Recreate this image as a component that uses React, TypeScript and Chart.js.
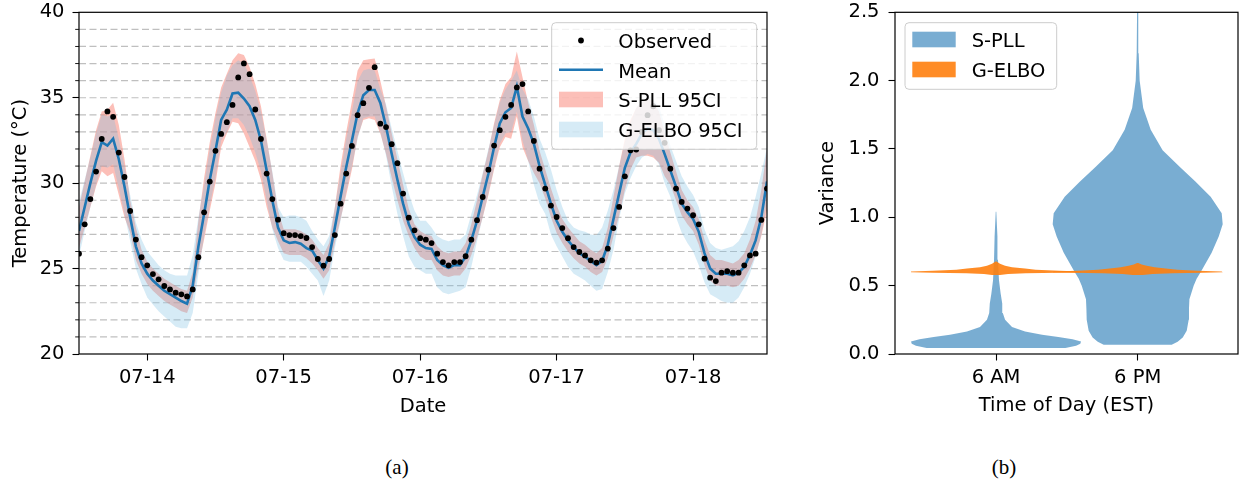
import React, { useEffect, useRef } from 'react';
import { Chart, registerables } from 'chart.js';

Chart.register(...registerables);

const FONT_FAMILY = "'DejaVu Sans', 'Noto Sans', sans-serif";
const FONT_SIZE = 19.5;

// ---------------- (a) hourly temperature series, first sample at 07-13 12:00 ----------------
const firstSampleHour = 12; // hours after 07-13 00:00

const observedTemp = [
  25.87, 27.59, 29.07, 30.68, 32.59, 34.2, 33.88, 31.79, 30.36, 28.37, 26.7, 25.67,
  25.19, 24.68, 24.37, 23.98, 23.78, 23.59, 23.49, 23.37, 23.78, 25.67, 28.29, 30.09,
  31.89, 32.88, 33.57, 34.58, 36.19, 37.01, 36.38, 34.31, 32.59, 30.56, 29.07, 27.86,
  27.07, 26.96, 26.96, 26.9, 26.79, 26.26, 25.56, 25.17, 25.56, 26.96, 28.8, 30.56,
  32.18, 33.98, 34.68, 35.58, 36.79, 33.48, 33.28, 32.28, 31.17, 29.39, 27.98, 27.24,
  26.78, 26.69, 26.49, 25.87, 25.38, 25.19, 25.38, 25.38, 25.72, 26.69, 27.83, 29.19,
  30.79, 32.2, 33.1, 33.88, 34.58, 35.6, 35.8, 34.2, 32.47, 30.85, 29.68, 28.69,
  28.02, 27.37, 26.78, 26.26, 25.97, 25.77, 25.48, 25.35, 25.48, 26.17, 27.37, 28.61,
  30.4, 31.92, 31.97, 33.0, 33.98, 34.5, 33.1, 32.36, 30.85, 29.68, 28.9, 28.51,
  28.12, 27.59, 25.58, 24.47, 24.27, 24.76, 24.85, 24.76, 24.76, 25.19, 25.77, 25.87,
  27.85, 29.68,
];

const meanTemp = [
  27.2, 28.6, 30.0, 31.3, 32.4, 32.2, 32.6, 31.4, 29.8, 28.0, 26.3, 25.3,
  24.7, 24.3, 24.0, 23.7, 23.5, 23.3, 23.1, 22.95, 24.0, 26.3, 28.2, 30.2,
  31.9, 33.7, 34.3, 35.25, 35.3, 34.95, 34.5, 33.7, 32.5, 30.75, 29.0, 27.4,
  26.65, 26.5, 26.55, 26.45, 26.2, 26.05, 25.5, 25.0, 25.7, 27.4, 29.2, 30.95,
  32.5, 34.1, 35.15, 35.45, 35.45, 34.7, 33.3, 31.7, 30.2, 28.8, 27.6, 26.85,
  26.4, 26.2, 26.15, 25.5, 25.2, 25.05, 25.2, 25.2, 25.7, 26.65, 27.8, 29.2,
  30.55, 32.1, 33.5, 34.15, 34.4, 35.65, 33.9, 33.2, 32.3, 31.0, 29.9, 28.8,
  27.8, 27.15, 26.65, 26.25, 25.9, 25.7, 25.45, 25.2, 25.45, 26.4, 27.9, 29.4,
  30.9, 31.8, 32.3, 32.9, 33.2, 33.1, 32.6, 31.7, 30.75, 29.8, 28.8, 28.3,
  27.9, 27.15, 25.9, 25.0, 24.7, 24.7, 24.7, 24.6, 24.75, 25.1, 25.8, 26.65,
  28.0, 30.1,
];

const spllLower = [
  26.2, 27.4, 28.6, 29.8, 30.7, 30.4, 30.6, 29.3, 28.0, 27.1, 25.5, 24.7,
  24.1, 23.7, 23.4, 23.1, 22.9, 22.7, 22.5, 22.4, 23.3, 25.1, 26.7, 28.4,
  30.0, 32.1, 32.9, 33.6, 33.5, 32.9, 32.1, 31.3, 30.2, 28.6, 27.4, 26.6,
  25.9, 25.8, 25.8, 25.8, 25.6, 25.3, 24.9, 24.4, 24.9, 26.5, 27.9, 29.3,
  30.8, 32.7, 33.7, 33.8, 33.7, 32.9, 31.7, 30.3, 29.0, 27.8, 26.9, 26.2,
  25.7, 25.5, 25.5, 24.9, 24.6, 24.5, 24.6, 24.6, 25.0, 25.8, 26.8, 28.0,
  29.3, 30.8, 32.1, 32.7, 32.6, 33.9, 32.1, 31.3, 30.6, 30.0, 29.1, 28.0,
  27.1, 26.5, 26.0, 25.6, 25.3, 25.1, 24.8, 24.6, 24.8, 25.6, 26.9, 28.1,
  29.6, 30.8, 31.5, 31.6, 31.6, 31.5, 31.2, 30.4, 29.9, 29.0, 28.1, 27.6,
  27.2, 26.4, 25.2, 24.3, 24.0, 24.0, 24.0, 23.9, 24.0, 24.4, 25.0, 25.8,
  26.9, 28.4,
];

const spllUpper = [
  28.6, 30.1, 31.6, 33.1, 34.2, 34.3, 34.7, 33.4, 31.4, 29.0, 27.4, 26.1,
  25.4, 25.0, 24.7, 24.4, 24.2, 24.0, 23.8, 23.7, 24.8, 27.8, 30.3, 32.4,
  34.1, 35.6, 36.4, 37.2, 37.6, 37.5, 36.8, 35.8, 34.5, 32.6, 30.6, 28.4,
  27.3, 27.3, 27.3, 27.2, 27.0, 26.7, 26.2, 25.8, 26.5, 28.6, 31.0, 33.0,
  34.8, 36.6, 37.2, 37.25, 37.3, 36.0, 34.5, 32.9, 31.4, 29.9, 28.5, 27.6,
  27.2, 27.0, 26.9, 26.3, 26.0, 25.9, 26.0, 26.0, 26.5, 27.6, 29.0, 30.5,
  31.9, 33.5, 34.85, 35.8, 36.2, 37.7, 36.2, 34.7, 33.4, 31.9, 30.8, 29.7,
  28.7, 27.9, 27.4, 27.0, 26.6, 26.4, 26.1, 25.9, 26.2, 27.4, 29.2, 31.0,
  32.6, 33.7, 34.4, 34.8, 35.0, 34.8, 34.2, 33.0, 31.8, 30.7, 29.6, 29.0,
  28.6, 27.9, 26.7, 25.8, 25.5, 25.5, 25.4, 25.3, 25.5, 25.9, 26.7, 27.8,
  29.6, 32.0,
];

const gelboLower = [
  25.7, 27.2, 28.6, 29.9, 31.0, 30.9, 31.1, 29.7, 28.2, 26.6, 25.0, 24.1,
  23.3, 22.9, 22.5, 22.2, 21.9, 21.6, 21.5, 21.5, 22.4, 24.7, 26.9, 28.7,
  30.3, 32.5, 33.0, 33.8, 33.8, 33.4, 32.7, 31.8, 30.7, 29.0, 27.3, 26.2,
  25.5, 25.4, 25.4, 25.4, 25.1, 24.7, 24.3, 23.4, 24.3, 26.2, 27.8, 29.5,
  31.0, 32.6, 33.8, 33.9, 33.9, 33.0, 31.6, 29.8, 28.2, 26.9, 25.7, 25.1,
  24.9, 24.7, 24.7, 23.9, 23.6, 23.5, 23.6, 23.7, 23.9, 25.1, 26.6, 28.0,
  29.4, 30.9, 32.3, 32.9, 33.0, 34.2, 32.5, 31.3, 29.9, 28.8, 28.2, 27.0,
  26.3, 25.7, 25.1, 24.7, 24.5, 24.3, 24.0, 23.7, 23.8, 24.8, 26.1, 27.9,
  29.4, 30.3, 31.0, 31.5, 31.7, 31.6, 31.1, 30.0, 29.2, 28.0, 27.1, 26.5,
  26.0, 25.2, 24.2, 23.5, 23.3, 23.1, 23.0, 23.0, 23.3, 23.9, 24.7, 25.7,
  27.0, 28.9,
];

const gelboUpper = [
  28.9, 30.2, 31.5, 32.9, 34.0, 33.9, 34.0, 32.6, 31.0, 29.3, 27.7, 26.7,
  26.0, 25.6, 25.2, 24.9, 24.7, 24.6, 24.6, 24.6, 25.8, 28.0, 29.9, 32.0,
  33.8, 35.3, 36.3, 36.9, 37.2, 37.0, 36.3, 35.4, 34.2, 32.5, 30.7, 28.6,
  28.0, 28.1, 28.1, 28.0, 27.8, 27.2, 26.7, 26.3, 26.9, 28.6, 30.6, 32.6,
  34.2, 36.0, 36.6, 36.7, 36.6, 35.5, 34.6, 33.2, 31.9, 30.6, 29.4, 28.4,
  27.8, 27.8, 27.4, 26.9, 26.7, 26.6, 26.7, 26.7, 27.0, 28.2, 29.3, 30.6,
  32.0, 33.4, 34.7, 35.5, 36.0, 36.6, 35.5, 34.9, 33.9, 32.6, 31.8, 30.8,
  29.6, 28.6, 27.8, 27.4, 27.25, 27.15, 27.0, 26.95, 27.4, 28.4, 29.6, 31.0,
  32.4, 33.5, 34.4, 34.8, 35.0, 34.9, 34.5, 33.4, 32.2, 31.3, 30.4, 29.8,
  29.3, 28.6, 27.3, 26.5, 26.2, 26.1, 26.2, 26.3, 26.6, 27.2, 28.0, 29.2,
  30.6, 32.1,
];

const dayTickHours = [24, 48, 72, 96, 120];
const dayTickLabels = ['07-14', '07-15', '07-16', '07-17', '07-18'];
const hourAxisRange = [12, 133];
const tempTicks = [20, 25, 30, 35, 40];

// ---------------- (b) violin plot of variances ----------------
const timeOfDayLabels = ['6 AM', '6 PM'];
const timeOfDayPositions = [1, 2];
const positionAxisRange = [0.287, 2.708];
const varianceTicks = [0, 0.5, 1, 1.5, 2, 2.5];

const spllAmLevels = [0.044, 0.06, 0.075, 0.092, 0.108, 0.124, 0.141, 0.165, 0.197, 0.25, 0.3, 0.37, 0.44, 0.54, 0.69, 0.86, 1.04];
const spllAmHalfWidth = [0.49, 0.565, 0.595, 0.6, 0.54, 0.44, 0.325, 0.205, 0.113, 0.064, 0.048, 0.044, 0.033, 0.021, 0.014, 0.01, 0.002];

const spllPmLevels = [0.068, 0.09, 0.12, 0.17, 0.25, 0.33, 0.4, 0.45, 0.5, 0.55, 0.6, 0.74, 0.86, 0.95, 1.03, 1.15, 1.26, 1.37, 1.49, 1.64, 1.8, 2.0, 2.2, 2.55];
const spllPmHalfWidth = [0.24, 0.282, 0.318, 0.346, 0.36, 0.362, 0.365, 0.38, 0.395, 0.416, 0.445, 0.522, 0.572, 0.6, 0.593, 0.515, 0.409, 0.296, 0.176, 0.092, 0.039, 0.014, 0.007, 0.004];

const gelboAmLevels = [0.578, 0.585, 0.59, 0.594, 0.598, 0.604, 0.61, 0.617, 0.625, 0.635, 0.646, 0.66, 0.677];
const gelboAmHalfWidth = [0.028, 0.085, 0.21, 0.445, 0.6, 0.6, 0.445, 0.28, 0.205, 0.113, 0.064, 0.028, 0.004];

const gelboPmLevels = [0.578, 0.585, 0.59, 0.594, 0.598, 0.604, 0.61, 0.617, 0.625, 0.635, 0.645, 0.655, 0.665];
const gelboPmHalfWidth = [0.035, 0.106, 0.247, 0.459, 0.6, 0.593, 0.423, 0.28, 0.198, 0.12, 0.064, 0.028, 0.004];

// ---------------- colours ----------------
const C_MEAN = '#1f77b4';
const C_SPLL_BAND = 'rgba(250,128,114,0.5)';
const C_GELBO_BAND = 'rgba(118,188,225,0.3)';
const C_SPLL_VIOLIN = 'rgba(31,119,180,0.6)';
const C_GELBO_VIOLIN = 'rgba(255,127,14,0.9)';

const toSeries = (arr: number[]) => arr.map((v, i) => ({ x: firstSampleHour + i, y: v }));

function violinOutline(pos: number, levels: number[], half: number[]) {
  const right = levels.map((v, i) => ({ x: pos + half[i], y: v }));
  const left = levels.map((v, i) => ({ x: pos - half[i], y: v })).reverse();
  return [...right, ...left];
}

function roundRectPath(ctx: any, x: number, y: number, w: number, h: number, r: number) {
  ctx.beginPath();
  ctx.moveTo(x + r, y);
  ctx.lineTo(x + w - r, y);
  ctx.arcTo(x + w, y, x + w, y + r, r);
  ctx.lineTo(x + w, y + h - r);
  ctx.arcTo(x + w, y + h, x + w - r, y + h, r);
  ctx.lineTo(x + r, y + h);
  ctx.arcTo(x, y + h, x, y + h - r, r);
  ctx.lineTo(x, y + r);
  ctx.arcTo(x, y, x + r, y, r);
  ctx.closePath();
}

function drawLegend(ctx: any, box: any, entries: any[]) {
  ctx.save();
  roundRectPath(ctx, box.x, box.y, box.w, box.h, 4);
  ctx.fillStyle = 'rgba(255,255,255,0.8)';
  ctx.fill();
  ctx.lineWidth = 1;
  ctx.strokeStyle = '#cccccc';
  ctx.stroke();
  for (const e of entries) {
    const hx0 = box.handleX0;
    const hx1 = box.handleX1;
    if (e.kind === 'dot') {
      ctx.beginPath();
      ctx.arc((hx0 + hx1) / 2, e.cy, 2.9, 0, Math.PI * 2);
      ctx.fillStyle = '#000';
      ctx.fill();
    } else if (e.kind === 'line') {
      ctx.beginPath();
      ctx.moveTo(hx0, e.cy);
      ctx.lineTo(hx1, e.cy);
      ctx.lineWidth = 2.6;
      ctx.strokeStyle = e.color;
      ctx.stroke();
    } else {
      ctx.fillStyle = e.color;
      ctx.fillRect(hx0, e.cy - 7.8, hx1 - hx0, 15.6);
    }
    ctx.fillStyle = '#000';
    ctx.font = `${FONT_SIZE}px ${FONT_FAMILY}`;
    ctx.textAlign = 'left';
    ctx.textBaseline = 'alphabetic';
    ctx.fillText(e.label, box.textX, e.baseline);
  }
  ctx.restore();
}

const framePlugin = {
  id: 'axesFrame',
  afterDatasetsDraw(chart: any) {
    const { ctx, chartArea: a } = chart;
    ctx.save();
    ctx.strokeStyle = '#000';
    ctx.lineWidth = 1.2;
    ctx.strokeRect(a.left, a.top, a.right - a.left, a.bottom - a.top);
    ctx.restore();
  },
};

const tempGridPlugin = {
  id: 'tempGrid',
  beforeDatasetsDraw(chart: any) {
    const { ctx, chartArea: a, scales } = chart;
    const y = scales.y;
    ctx.save();
    ctx.strokeStyle = 'rgba(0,0,0,0.25)';
    ctx.lineWidth = 1.2;
    ctx.setLineDash([7, 3.5]);
    for (let v = y.min + 1; v < y.max; v += 1) {
      const py = y.getPixelForValue(v);
      ctx.beginPath();
      ctx.moveTo(a.left, py);
      ctx.lineTo(a.right, py);
      ctx.stroke();
    }
    ctx.restore();
  },
  afterDatasetsDraw(chart: any) {
    const { ctx, chartArea: a, scales } = chart;
    const y = scales.y;
    ctx.save();
    ctx.strokeStyle = '#000';
    ctx.lineWidth = 0.9;
    for (let v = y.min + 1; v < y.max; v += 1) {
      if (tempTicks.indexOf(v) >= 0) continue;
      const py = y.getPixelForValue(v);
      ctx.beginPath();
      ctx.moveTo(a.left - 3.8, py);
      ctx.lineTo(a.left, py);
      ctx.stroke();
    }
    ctx.restore();
  },
};

const leftLegendPlugin = {
  id: 'leftLegend',
  afterDraw(chart: any) {
    drawLegend(
      chart.ctx,
      { x: 551.7, y: 22.7, w: 205, h: 126.6, handleX0: 559, handleX1: 603, textX: 618.3 },
      [
        { kind: 'dot', label: 'Observed', cy: 40.5, baseline: 48.3 },
        { kind: 'line', label: 'Mean', color: C_MEAN, cy: 69.7, baseline: 77.5 },
        { kind: 'patch', label: 'S-PLL 95CI', color: C_SPLL_BAND, cy: 99.5, baseline: 107.3 },
        { kind: 'patch', label: 'G-ELBO 95CI', color: C_GELBO_BAND, cy: 129.5, baseline: 137.3 },
      ]
    );
  },
};

const rightLegendPlugin = {
  id: 'rightLegend',
  afterDraw(chart: any) {
    drawLegend(
      chart.ctx,
      { x: 120, y: 22.7, w: 151.7, h: 66.6, handleX0: 127.3, handleX1: 170.7, textX: 186.7 },
      [
        { kind: 'patch', label: 'S-PLL', color: C_SPLL_VIOLIN, cy: 39.5, baseline: 46.9 },
        { kind: 'patch', label: 'G-ELBO', color: C_GELBO_VIOLIN, cy: 69.5, baseline: 77.0 },
      ]
    );
  },
};

const font = { family: FONT_FAMILY, size: FONT_SIZE };

const fitY = (width: number) => (s: any) => {
  s.width = width;
  s.paddingTop = 0;
  s.paddingBottom = 0;
};
const fitX = (height: number) => (s: any) => {
  s.height = height;
  s.paddingLeft = 0;
  s.paddingRight = 0;
};

export default function App() {
  const leftRef = useRef<HTMLCanvasElement | null>(null);
  const rightRef = useRef<HTMLCanvasElement | null>(null);

  useEffect(() => {
    if (!leftRef.current || !rightRef.current) return;

    const bandDs = (label: string, data: number[], fill: any, color: string) => ({
      label,
      data: toSeries(data),
      borderWidth: 0,
      borderColor: 'transparent',
      backgroundColor: color,
      pointRadius: 0,
      pointHoverRadius: 0,
      tension: 0,
      fill,
    });

    const left = new Chart(leftRef.current, {
      type: 'line',
      data: {
        datasets: [
          {
            label: 'Observed',
            data: toSeries(observedTemp),
            showLine: false,
            pointRadius: 2.9,
            pointHoverRadius: 0,
            pointBackgroundColor: '#000',
            pointBorderWidth: 0,
            borderColor: 'transparent',
            clip: 0,
          } as any,
          {
            label: 'Mean',
            data: toSeries(meanTemp),
            borderColor: C_MEAN,
            borderWidth: 2.6,
            pointRadius: 0,
            pointHoverRadius: 0,
            tension: 0,
            fill: false,
            clip: 0,
          } as any,
          bandDs('G-ELBO 95CI upper', gelboUpper, '+1', C_GELBO_BAND),
          bandDs('G-ELBO 95CI lower', gelboLower, false, 'transparent'),
          bandDs('S-PLL 95CI upper', spllUpper, '+1', C_SPLL_BAND),
          bandDs('S-PLL 95CI lower', spllLower, false, 'transparent'),
        ],
      },
      options: {
        animation: false,
        responsive: false,
        maintainAspectRatio: false,
        devicePixelRatio: 1,
        events: [],
        layout: { padding: { top: 12.3, right: 18, bottom: 0, left: 0 } },
        plugins: { legend: { display: false }, tooltip: { enabled: false } },
        scales: {
          x: {
            type: 'linear',
            min: hourAxisRange[0],
            max: hourAxisRange[1],
            afterBuildTicks: (s: any) => {
              s.ticks = dayTickHours.map((v) => ({ value: v }));
            },
            afterFit: fitX(76),
            ticks: {
              callback: (v: any) => {
                const i = dayTickHours.indexOf(Number(v));
                return i >= 0 ? dayTickLabels[i] : '';
              },
              font,
              color: '#000',
              padding: 6,
              maxRotation: 0,
              autoSkip: false,
            },
            grid: { drawOnChartArea: false, tickLength: 6.5, tickWidth: 1.1, tickColor: '#000' },
            border: { display: false },
            title: { display: true, text: 'Date', font, color: '#000', padding: { top: 0, bottom: 11.7 } },
          },
          y: {
            type: 'linear',
            min: tempTicks[0],
            max: tempTicks[tempTicks.length - 1],
            afterBuildTicks: (s: any) => {
              s.ticks = tempTicks.map((v) => ({ value: v }));
            },
            afterFit: fitY(79),
            ticks: { callback: (v: any) => String(v), font, color: '#000', padding: 8, autoSkip: false },
            grid: { drawOnChartArea: false, tickLength: 6.5, tickWidth: 1.1, tickColor: '#000' },
            border: { display: false },
            title: { display: true, text: 'Temperature (°C)', font, color: '#000', padding: { top: 9, bottom: 0 } },
          },
        },
      } as any,
      plugins: [tempGridPlugin, framePlugin, leftLegendPlugin],
    });

    const violinDs = (label: string, pos: number, levels: number[], half: number[], color: string) => ({
      label,
      data: violinOutline(pos, levels, half),
      fill: 'shape',
      backgroundColor: color,
      borderWidth: 0,
      borderColor: 'transparent',
      pointRadius: 0,
      pointHoverRadius: 0,
      tension: 0,
    });

    const right = new Chart(rightRef.current, {
      type: 'line',
      data: {
        datasets: [
          violinDs('G-ELBO 6 AM', timeOfDayPositions[0], gelboAmLevels, gelboAmHalfWidth, C_GELBO_VIOLIN),
          violinDs('G-ELBO 6 PM', timeOfDayPositions[1], gelboPmLevels, gelboPmHalfWidth, C_GELBO_VIOLIN),
          violinDs('S-PLL 6 AM', timeOfDayPositions[0], spllAmLevels, spllAmHalfWidth, C_SPLL_VIOLIN),
          violinDs('S-PLL 6 PM', timeOfDayPositions[1], spllPmLevels, spllPmHalfWidth, C_SPLL_VIOLIN),
        ] as any,
      },
      options: {
        animation: false,
        responsive: false,
        maintainAspectRatio: false,
        devicePixelRatio: 1,
        events: [],
        layout: { padding: { top: 12.3, right: 7, bottom: 0, left: 0 } },
        plugins: { legend: { display: false }, tooltip: { enabled: false } },
        scales: {
          x: {
            type: 'linear',
            min: positionAxisRange[0],
            max: positionAxisRange[1],
            afterBuildTicks: (s: any) => {
              s.ticks = timeOfDayPositions.map((v) => ({ value: v }));
            },
            afterFit: fitX(76),
            ticks: {
              callback: (v: any) => {
                const i = timeOfDayPositions.indexOf(Number(v));
                return i >= 0 ? timeOfDayLabels[i] : '';
              },
              font,
              color: '#000',
              padding: 6,
              maxRotation: 0,
              autoSkip: false,
            },
            grid: { drawOnChartArea: false, tickLength: 6.5, tickWidth: 1.1, tickColor: '#000' },
            border: { display: false },
            title: { display: true, text: 'Time of Day (EST)', font, color: '#000', padding: { top: 0, bottom: 12.3 } },
          },
          y: {
            type: 'linear',
            min: varianceTicks[0],
            max: varianceTicks[varianceTicks.length - 1],
            afterBuildTicks: (s: any) => {
              s.ticks = varianceTicks.map((v) => ({ value: v }));
            },
            afterFit: fitY(110),
            ticks: { callback: (v: any) => Number(v).toFixed(1), font, color: '#000', padding: 9, autoSkip: false },
            grid: { drawOnChartArea: false, tickLength: 6.5, tickWidth: 1.1, tickColor: '#000' },
            border: { display: false },
            title: { display: true, text: 'Variance', font, color: '#000', padding: { top: 31.6, bottom: 0 } },
          },
        },
      } as any,
      plugins: [framePlugin, rightLegendPlugin],
    });

    return () => {
      left.destroy();
      right.destroy();
    };
  }, []);

  const captionStyle = (cx: number): React.CSSProperties => ({
    position: 'absolute',
    left: cx - 40,
    top: 455,
    width: 80,
    textAlign: 'center',
    fontFamily: "'Liberation Serif', 'DejaVu Serif', serif",
    fontSize: 21,
    lineHeight: '24px',
    color: '#000',
  });

  return (
    <div style={{ position: 'absolute', left: 0, top: 0, width: 1245, height: 482, background: '#fff', overflow: 'hidden' }}>
      <canvas ref={leftRef} width={785} height={430} style={{ position: 'absolute', left: 0, top: 0, width: 785, height: 430 }} />
      <canvas ref={rightRef} width={460} height={430} style={{ position: 'absolute', left: 785, top: 0, width: 460, height: 430 }} />
      <div style={captionStyle(397)}>(a)</div>
      <div style={captionStyle(1004)}>(b)</div>
    </div>
  );
}
